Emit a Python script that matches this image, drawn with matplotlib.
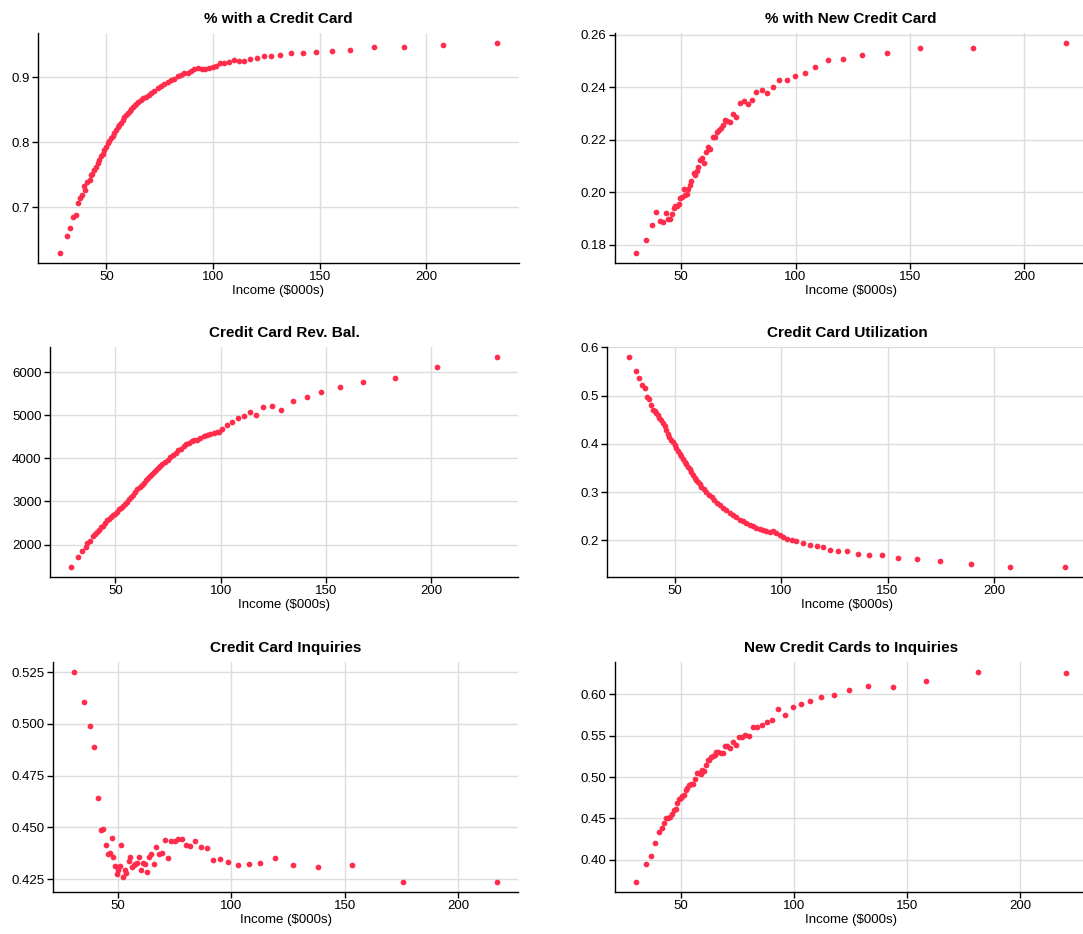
import matplotlib
matplotlib.use("Agg")
import matplotlib.pyplot as plt
from matplotlib.ticker import FormatStrFormatter

plt.rcParams['font.family'] = ['Liberation Sans', 'DejaVu Sans']

# ---------------- data ----------------
cc_x = [28.2, 31.4, 33.1, 34.4, 35.7, 36.6, 37.7, 38.5, 39.3, 40.1, 40.9, 42.1, 42.9, 43.5,
        44.3, 45.1, 45.9, 46.7, 47.5, 48.3, 49.1, 49.8, 50.6, 51.4, 52.2, 53.0, 53.8, 54.6,
        55.4, 56.1, 56.9, 57.7, 58.5, 59.3, 60.1, 60.9, 61.7, 62.5, 63.2, 64.0, 64.8, 66.1,
        67.3, 68.6, 69.9, 71.1, 72.4, 74.0, 75.5, 77.1, 78.7, 80.3, 81.9, 83.4, 85.0, 86.6,
        88.2, 89.7, 91.3, 92.9, 94.9, 96.3, 98.1, 100.0, 101.5, 103.4, 105.3, 107.5, 109.7,
        112.0, 114.5, 117.4, 120.4, 123.7, 127.3, 131.6, 136.6, 142.2, 148.1, 155.6, 164.2,
        175.4, 189.7, 207.6, 233.2]
cc_y = [0.630, 0.655, 0.668, 0.685, 0.688, 0.707, 0.714, 0.719, 0.733, 0.727, 0.739, 0.742,
        0.749, 0.751, 0.757, 0.762, 0.768, 0.773, 0.778, 0.782, 0.788, 0.793, 0.798, 0.802,
        0.806, 0.810, 0.814, 0.819, 0.823, 0.827, 0.830, 0.834, 0.838, 0.842, 0.845, 0.848,
        0.851, 0.854, 0.857, 0.859, 0.862, 0.865, 0.868, 0.870, 0.873, 0.876, 0.879, 0.883,
        0.887, 0.890, 0.893, 0.896, 0.898, 0.902, 0.904, 0.906, 0.907, 0.909, 0.912, 0.914,
        0.912, 0.913, 0.914, 0.916, 0.917, 0.922, 0.922, 0.923, 0.926, 0.925, 0.925, 0.928,
        0.930, 0.932, 0.932, 0.934, 0.938, 0.937, 0.939, 0.940, 0.942, 0.946, 0.946, 0.950,
        0.952]

new_x = [30.5, 34.7, 37.1, 39.2, 40.7, 42.2, 43.3, 44.3, 45.2, 45.9, 46.7, 47.5, 48.4, 49.0,
         49.7, 50.6, 51.2, 51.9, 52.6, 53.2, 53.8, 54.5, 55.5, 56.3, 56.8, 57.6, 58.4, 59.2,
         60.2, 61.0, 61.9, 62.8, 63.8, 64.7, 65.7, 66.6, 67.4, 68.3, 69.2, 70.2, 71.5, 72.7,
         74.1, 75.9, 77.5, 79.1, 81.0, 82.8, 85.2, 87.5, 90.1, 92.9, 96.2, 99.9, 104.1, 108.7,
         114.1, 120.6, 129.0, 140.1, 154.6, 177.5, 218.0]
new_y = [0.1770, 0.1816, 0.1873, 0.1924, 0.1891, 0.1886, 0.1922, 0.1897, 0.1899, 0.1916,
         0.1938, 0.1947, 0.1947, 0.1954, 0.1977, 0.1980, 0.2013, 0.1990, 0.1994, 0.2011,
         0.2028, 0.2042, 0.2071, 0.2066, 0.2080, 0.2096, 0.2123, 0.2129, 0.2111, 0.2154,
         0.2170, 0.2166, 0.2208, 0.2208, 0.2230, 0.2238, 0.2246, 0.2256, 0.2273, 0.2272,
         0.2266, 0.2299, 0.2286, 0.2339, 0.2347, 0.2334, 0.2351, 0.2381, 0.2389, 0.2376,
         0.2400, 0.2428, 0.2425, 0.2441, 0.2454, 0.2478, 0.2503, 0.2505, 0.2522, 0.2528,
         0.2548, 0.2548, 0.2566]

bal_x = [29.0, 32.3, 34.2, 35.8, 36.6, 38.1, 39.2, 40.2, 41.3, 42.2, 43.2, 44.1, 45.1, 46.0,
         47.0, 47.9, 48.9, 49.8, 50.8, 51.7, 52.7, 53.6, 54.7, 55.7, 56.6, 57.6, 58.5, 59.5,
         60.4, 61.6, 62.5, 63.4, 64.4, 65.3, 66.3, 67.2, 68.2, 69.1, 70.1, 71.0, 72.3, 73.6,
         74.8, 76.1, 77.4, 78.6, 79.9, 81.2, 82.4, 83.7, 85.0, 86.2, 87.5, 88.8, 90.3, 91.9,
         93.5, 95.1, 96.7, 98.3, 99.2, 100.8, 103.0, 105.5, 108.1, 110.9, 113.8, 116.6, 120.3,
         124.2, 128.8, 134.5, 140.8, 147.8, 156.5, 167.6, 182.8, 202.7, 231.2]
bal_y = [1491, 1723, 1861, 1954, 2031, 2085, 2208, 2239, 2293, 2347, 2408, 2432, 2509, 2563,
         2601, 2640, 2678, 2717, 2755, 2817, 2855, 2894, 2948, 2994, 3048, 3102, 3156, 3218,
         3279, 3341, 3387, 3434, 3487, 3541, 3588, 3634, 3680, 3726, 3773, 3819, 3865, 3911,
         3973, 4035, 4073, 4127, 4189, 4227, 4281, 4335, 4358, 4412, 4435, 4420, 4474, 4513,
         4536, 4559, 4582, 4605, 4620, 4682, 4774, 4836, 4929, 4990, 5069, 5008, 5193, 5208,
         5131, 5331, 5416, 5531, 5647, 5762, 5862, 6117, 6340]

util_x = [28.5, 31.7, 33.4, 34.6, 35.9, 37.0, 37.9, 38.9, 39.8, 40.6, 41.4, 42.2, 42.9, 43.7,
          44.5, 45.3, 46.1, 46.9, 47.6, 48.4, 49.2, 50.0, 50.8, 51.6, 52.4, 53.1, 53.9, 54.7,
          55.5, 56.3, 57.1, 57.8, 58.6, 59.4, 60.2, 61.0, 61.8, 62.5, 63.6, 64.9, 66.1, 67.4,
          68.7, 69.9, 71.2, 72.7, 74.3, 75.9, 77.4, 79.0, 80.6, 82.1, 83.7, 85.3, 86.8, 88.4,
          90.0, 91.5, 93.1, 94.7, 96.2, 97.8, 99.4, 100.9, 102.8, 105.0, 107.2, 110.3, 113.8,
          116.9, 119.5, 123.0, 126.6, 130.8, 135.9, 141.4, 147.3, 154.8, 163.6, 174.8, 189.2,
          207.5, 233.4]
util_y = [0.579, 0.550, 0.537, 0.521, 0.515, 0.497, 0.494, 0.481, 0.470, 0.468, 0.463, 0.459,
          0.454, 0.449, 0.443, 0.438, 0.428, 0.421, 0.414, 0.409, 0.404, 0.398, 0.392, 0.386,
          0.380, 0.374, 0.369, 0.363, 0.358, 0.352, 0.347, 0.341, 0.336, 0.330, 0.326, 0.321,
          0.316, 0.311, 0.306, 0.300, 0.294, 0.289, 0.283, 0.278, 0.273, 0.268, 0.263, 0.257,
          0.252, 0.248, 0.243, 0.240, 0.237, 0.233, 0.230, 0.226, 0.223, 0.221, 0.219, 0.218,
          0.220, 0.216, 0.212, 0.208, 0.203, 0.201, 0.199, 0.194, 0.190, 0.188, 0.186, 0.181,
          0.179, 0.178, 0.172, 0.170, 0.169, 0.164, 0.161, 0.157, 0.152, 0.146, 0.146]

inq_x = [30.6, 34.9, 37.4, 39.4, 41.0, 42.4, 43.4, 44.6, 45.4, 46.3, 47.1, 47.9, 48.7, 49.3,
         50.1, 50.7, 51.3, 52.1, 52.9, 53.7, 54.6, 55.4, 56.2, 56.9, 57.6, 58.4, 59.3, 60.1,
         61.0, 61.9, 62.8, 63.7, 64.6, 65.9, 66.9, 68.1, 69.4, 70.7, 72.1, 73.4, 74.9, 76.6,
         78.4, 80.0, 81.9, 84.1, 86.5, 89.1, 91.8, 95.0, 98.7, 102.8, 107.8, 112.6, 119.1,
         127.1, 138.4, 153.1, 175.9, 217.1]
inq_y = [0.5248, 0.5107, 0.4990, 0.4890, 0.4643, 0.4486, 0.4491, 0.4414, 0.4372, 0.4377,
         0.4447, 0.4356, 0.4316, 0.4274, 0.4295, 0.4316, 0.4417, 0.4263, 0.4295, 0.4280,
         0.4338, 0.4359, 0.4309, 0.4319, 0.4324, 0.4329, 0.4359, 0.4297, 0.4327, 0.4324,
         0.4285, 0.4359, 0.4374, 0.4325, 0.4407, 0.4370, 0.4375, 0.4438, 0.4351, 0.4433,
         0.4435, 0.4446, 0.4446, 0.4415, 0.4412, 0.4435, 0.4404, 0.4401, 0.4341, 0.4348,
         0.4332, 0.4321, 0.4322, 0.4327, 0.4351, 0.4321, 0.4311, 0.4318, 0.4239, 0.4239]

ratio_x = [30.5, 34.5, 36.8, 38.9, 40.5, 41.6, 42.8, 43.7, 44.6, 45.5, 46.3, 47.1, 47.8, 48.5,
           49.3, 50.0, 50.7, 51.5, 52.2, 52.9, 53.7, 54.5, 55.4, 56.3, 57.2, 57.9, 58.8, 59.5,
           60.4, 61.1, 61.9, 62.6, 63.5, 64.2, 65.0, 65.8, 66.6, 67.6, 68.6, 69.5, 70.5, 71.6,
           73.0, 74.3, 75.7, 77.1, 78.6, 80.1, 81.8, 83.7, 85.8, 88.0, 90.5, 93.1, 96.0, 99.4,
           103.1, 107.3, 112.1, 117.5, 124.1, 132.6, 143.8, 158.4, 181.3, 219.9]
ratio_y = [0.374, 0.395, 0.405, 0.421, 0.434, 0.439, 0.445, 0.450, 0.450, 0.452, 0.455, 0.460,
           0.462, 0.469, 0.473, 0.475, 0.477, 0.478, 0.484, 0.487, 0.490, 0.491, 0.491, 0.497,
           0.505, 0.505, 0.504, 0.508, 0.507, 0.515, 0.521, 0.520, 0.524, 0.525, 0.527, 0.530,
           0.530, 0.529, 0.529, 0.537, 0.537, 0.535, 0.542, 0.538, 0.548, 0.548, 0.551, 0.550,
           0.560, 0.560, 0.563, 0.566, 0.569, 0.582, 0.575, 0.584, 0.588, 0.592, 0.596, 0.599,
           0.605, 0.610, 0.609, 0.616, 0.626, 0.625]

titles = ["% with a Credit Card", "% with New Credit Card", "Credit Card Rev. Bal.",
          "Credit Card Utilization", "Credit Card Inquiries", "New Credit Cards to Inquiries"]
xlabel = "Income (\\$000s)"
xticks = [50, 100, 150, 200]
yticks_list = [[0.7, 0.8, 0.9],
               [0.18, 0.20, 0.22, 0.24, 0.26],
               [2000, 3000, 4000, 5000, 6000],
               [0.2, 0.3, 0.4, 0.5, 0.6],
               [0.425, 0.450, 0.475, 0.500, 0.525],
               [0.40, 0.45, 0.50, 0.55, 0.60]]
yfmts = ["%.1f", "%.2f", "%d", "%.1f", "%.3f", "%.2f"]

series = [(cc_x, cc_y), (new_x, new_y), (bal_x, bal_y),
          (util_x, util_y), (inq_x, inq_y), (ratio_x, ratio_y)]

# ---------------- layout (pixels) ----------------
W, H = 1083, 934
boxes = [(38, 519, 33, 263), (615, 1087, 33, 263),
         (50, 518, 347, 577), (607, 1087, 347, 577),
         (53, 518, 662, 892), (615, 1087, 662, 892)]

color = "#FF2D4B"
fig = plt.figure(figsize=(W / 100, H / 100), dpi=100)
for (l, r, t, b), (xs, ys), title, yt, fm in zip(boxes, series, titles, yticks_list, yfmts):
    ax = fig.add_axes([l / W, 1 - b / H, (r - l) / W, (b - t) / H])
    ax.scatter(xs, ys, s=17, color=color, linewidths=0, zorder=3)
    ax.set_title(title, fontsize=11, fontweight="bold", pad=7)
    ax.set_xlabel(xlabel, fontsize=9.5, labelpad=1)
    ax.set_xticks(xticks)
    ax.set_yticks(yt)
    ax.yaxis.set_major_formatter(FormatStrFormatter(fm))
    ax.grid(True, color="#dddddd", linewidth=1)
    ax.set_axisbelow(True)
    for s in ("top", "right"):
        ax.spines[s].set_visible(False)
    for s in ("left", "bottom"):
        ax.spines[s].set_color("black")
        ax.spines[s].set_linewidth(1)
    ax.tick_params(labelsize=9.5, length=4, width=1, pad=2, colors="black")

fig.savefig("out.png", dpi=100)
